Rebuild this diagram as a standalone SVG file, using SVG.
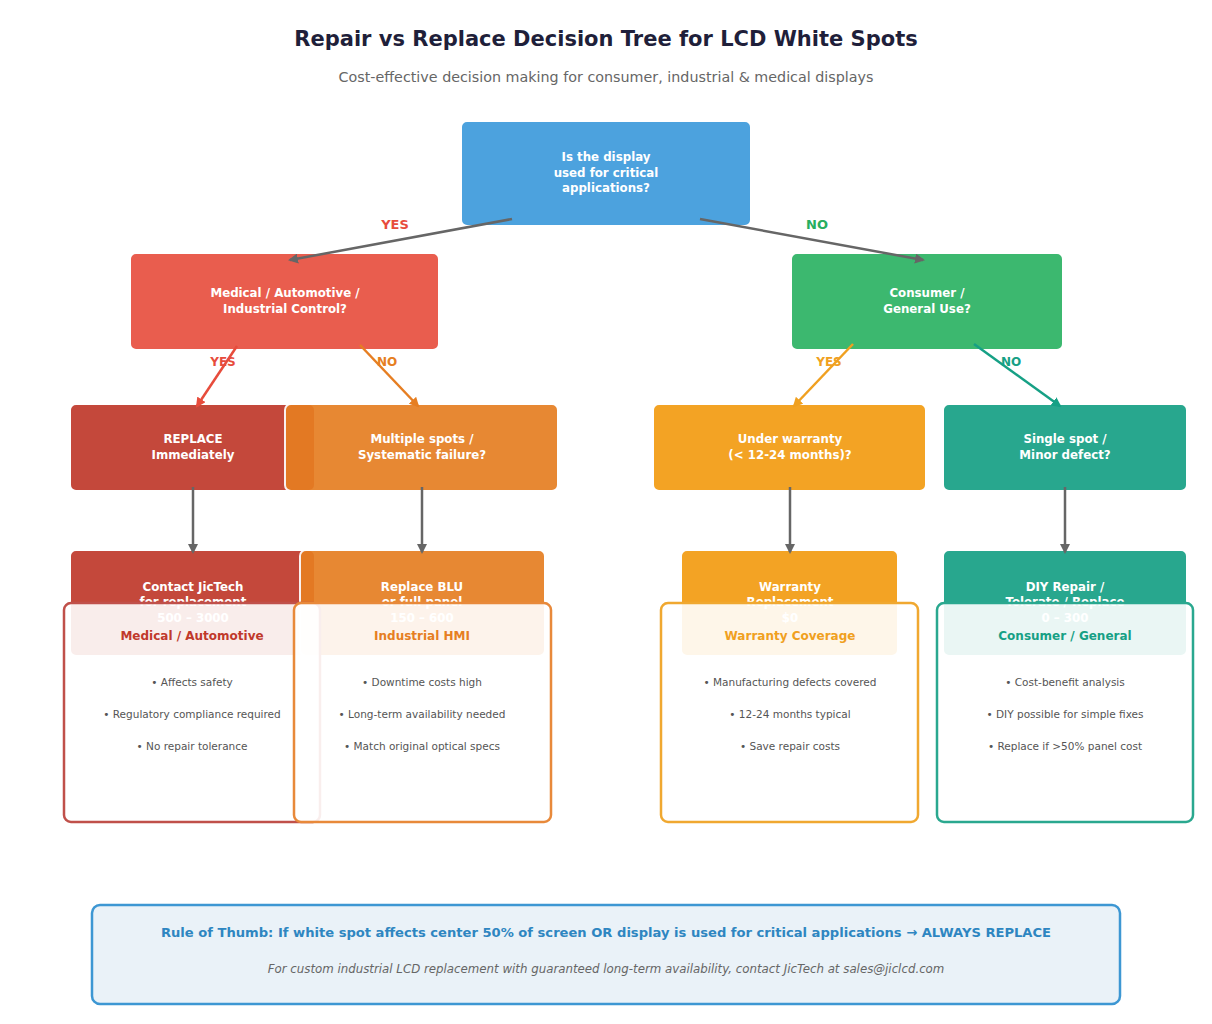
<svg xmlns="http://www.w3.org/2000/svg" width="1212" height="1024" viewBox="0 0 1212 1024">
<defs>
<marker id="ag" viewBox="0 0 10 10" refX="8" refY="5" markerWidth="4" markerHeight="4" orient="auto"><path d="M0,0 L10,5 L0,10 z" fill="#666666"/></marker>
<marker id="ar" viewBox="0 0 10 10" refX="8" refY="5" markerWidth="4" markerHeight="4" orient="auto"><path d="M0,0 L10,5 L0,10 z" fill="#e74c3c"/></marker>
<marker id="ao" viewBox="0 0 10 10" refX="8" refY="5" markerWidth="4" markerHeight="4" orient="auto"><path d="M0,0 L10,5 L0,10 z" fill="#e67e22"/></marker>
<marker id="ay" viewBox="0 0 10 10" refX="8" refY="5" markerWidth="4" markerHeight="4" orient="auto"><path d="M0,0 L10,5 L0,10 z" fill="#f0a020"/></marker>
<marker id="at" viewBox="0 0 10 10" refX="8" refY="5" markerWidth="4" markerHeight="4" orient="auto"><path d="M0,0 L10,5 L0,10 z" fill="#16a085"/></marker>
</defs>
<style>
text{font-family:"DejaVu Sans","Liberation Sans",sans-serif;text-anchor:middle}
.title{font-size:21px;font-weight:bold;fill:#1f1f3a}
.sub{font-size:14.3px;fill:#666666}
.node{stroke:#ffffff;stroke-width:2;opacity:0.92}
.nt{font-size:11.8px;font-weight:bold;fill:#ffffff}
.lbl{font-size:13px;font-weight:bold}
.card{fill:#ffffff;fill-opacity:0.9;stroke-width:2.5}
.ch{font-size:12px;font-weight:bold}
.bl{font-size:10.5px;fill:#555555}
.conn{stroke-width:2.5;fill:none}
</style>
<rect width="1212" height="1024" fill="#ffffff"/>
<text class="title" x="606" y="46">Repair vs Replace Decision Tree for LCD White Spots</text>
<text class="sub" x="606" y="82">Cost-effective decision making for consumer, industrial &amp; medical displays</text>

<g id="n-root"><rect class="node" x="461" y="121" width="290" height="105" rx="6" fill="#3d9bdc"/>
<text class="nt" x="606" y="161">Is the display</text><text class="nt" x="606" y="177">used for critical</text><text class="nt" x="606" y="192">applications?</text></g>

<g id="n-critical"><rect class="node" x="130" y="253" width="309" height="97" rx="6" fill="#e8503f"/>
<text class="nt" x="285" y="297">Medical / Automotive /</text><text class="nt" x="285" y="313">Industrial Control?</text></g>

<g id="n-consumer"><rect class="node" x="791" y="253" width="272" height="97" rx="6" fill="#2cb263"/>
<text class="nt" x="927" y="297">Consumer /</text><text class="nt" x="927" y="313">General Use?</text></g>

<g id="n-replace"><rect class="node" x="70" y="404" width="245" height="87" rx="6" fill="#c0392b"/>
<text class="nt" x="193" y="443">REPLACE</text><text class="nt" x="193" y="459">Immediately</text></g>

<g id="n-multiple"><rect class="node" x="285" y="404" width="273" height="87" rx="6" fill="#e67e22"/>
<text class="nt" x="422" y="443">Multiple spots /</text><text class="nt" x="422" y="459">Systematic failure?</text></g>

<g id="n-warranty"><rect class="node" x="653" y="404" width="273" height="87" rx="6" fill="#f39c12"/>
<text class="nt" x="790" y="443">Under warranty</text><text class="nt" x="790" y="459">(&lt; 12-24 months)?</text></g>

<g id="n-single"><rect class="node" x="943" y="404" width="244" height="87" rx="6" fill="#16a085"/>
<text class="nt" x="1065" y="443">Single spot /</text><text class="nt" x="1065" y="459">Minor defect?</text></g>

<g id="n-contact"><rect class="node" x="70" y="550" width="245" height="106" rx="6" fill="#c0392b"/>
<text class="nt" x="193" y="591">Contact JicTech</text><text class="nt" x="193" y="606">for replacement</text><text class="nt" x="193" y="622">500 – 3000</text></g>

<g id="n-blu"><rect class="node" x="300" y="550" width="245" height="106" rx="6" fill="#e67e22"/>
<text class="nt" x="422" y="591">Replace BLU</text><text class="nt" x="422" y="606">or full panel</text><text class="nt" x="422" y="622">150 – 600</text></g>

<g id="n-wrep"><rect class="node" x="681" y="550" width="217" height="106" rx="6" fill="#f39c12"/>
<text class="nt" x="790" y="591">Warranty</text><text class="nt" x="790" y="606">Replacement</text><text class="nt" x="790" y="622">$0</text></g>

<g id="n-diy"><rect class="node" x="943" y="550" width="244" height="106" rx="6" fill="#16a085"/>
<text class="nt" x="1065" y="591">DIY Repair /</text><text class="nt" x="1065" y="606">Tolerate / Replace</text><text class="nt" x="1065" y="622">0 – 300</text></g>

<g id="connectors">
<line class="conn" x1="512" y1="219" x2="290" y2="260" stroke="#666666" marker-end="url(#ag)"/>
<line class="conn" x1="700" y1="219" x2="923" y2="260" stroke="#666666" marker-end="url(#ag)"/>
<line class="conn" x1="237" y1="346" x2="197" y2="406" stroke="#e74c3c" marker-end="url(#ar)"/>
<line class="conn" x1="360" y1="345" x2="418" y2="406" stroke="#e67e22" marker-end="url(#ao)"/>
<line class="conn" x1="853" y1="344" x2="794" y2="406" stroke="#f0a020" marker-end="url(#ay)"/>
<line class="conn" x1="974" y1="344" x2="1060" y2="406" stroke="#16a085" marker-end="url(#at)"/>
<line class="conn" x1="193" y1="487" x2="193" y2="552" stroke="#666666" marker-end="url(#ag)"/>
<line class="conn" x1="422" y1="487" x2="422" y2="552" stroke="#666666" marker-end="url(#ag)"/>
<line class="conn" x1="790" y1="487" x2="790" y2="552" stroke="#666666" marker-end="url(#ag)"/>
<line class="conn" x1="1065" y1="487" x2="1065" y2="552" stroke="#666666" marker-end="url(#ag)"/>
<text class="lbl" x="395" y="229" fill="#e74c3c">YES</text>
<text class="lbl" x="817" y="229" fill="#27ae60">NO</text>
<text class="lbl" x="223" y="366" fill="#e74c3c" style="font-size:12px">YES</text>
<text class="lbl" x="387" y="366" fill="#e67e22" style="font-size:12px">NO</text>
<text class="lbl" x="829" y="366" fill="#f0a020" style="font-size:12px">YES</text>
<text class="lbl" x="1011" y="366" fill="#16a085" style="font-size:12px">NO</text>
</g>

<g id="card-medical"><rect class="card" x="64" y="603" width="256" height="219" rx="7" stroke="#c0504a"/>
<text class="ch" x="192" y="640" fill="#c0392b">Medical / Automotive</text>
<text class="bl" x="192" y="686">• Affects safety</text>
<text class="bl" x="192" y="718">• Regulatory compliance required</text>
<text class="bl" x="192" y="750">• No repair tolerance</text></g>

<g id="card-industrial"><rect class="card" x="294" y="603" width="257" height="219" rx="7" stroke="#e8893a"/>
<text class="ch" x="422" y="640" fill="#e67e22">Industrial HMI</text>
<text class="bl" x="422" y="686">• Downtime costs high</text>
<text class="bl" x="422" y="718">• Long-term availability needed</text>
<text class="bl" x="422" y="750">• Match original optical specs</text></g>

<g id="card-warranty"><rect class="card" x="661" y="603" width="257" height="219" rx="7" stroke="#f0a830"/>
<text class="ch" x="790" y="640" fill="#f0a020">Warranty Coverage</text>
<text class="bl" x="790" y="686">• Manufacturing defects covered</text>
<text class="bl" x="790" y="718">• 12-24 months typical</text>
<text class="bl" x="790" y="750">• Save repair costs</text></g>

<g id="card-consumer"><rect class="card" x="937" y="603" width="256" height="219" rx="7" stroke="#2aa88f"/>
<text class="ch" x="1065" y="640" fill="#16a085">Consumer / General</text>
<text class="bl" x="1065" y="686">• Cost-benefit analysis</text>
<text class="bl" x="1065" y="718">• DIY possible for simple fixes</text>
<text class="bl" x="1065" y="750">• Replace if &gt;50% panel cost</text></g>

<g id="rule"><rect x="92" y="905" width="1028" height="99" rx="8" fill="#eaf2f8" stroke="#3d97d3" stroke-width="2.5"/>
<text x="606" y="937" style="font-size:13.1px;font-weight:bold;fill:#2e86c1">Rule of Thumb: If white spot affects center 50% of screen OR display is used for critical applications → ALWAYS REPLACE</text>
<text x="606" y="973" style="font-size:11.8px;font-style:italic;fill:#666666">For custom industrial LCD replacement with guaranteed long-term availability, contact JicTech at sales@jiclcd.com</text></g>
</svg>
